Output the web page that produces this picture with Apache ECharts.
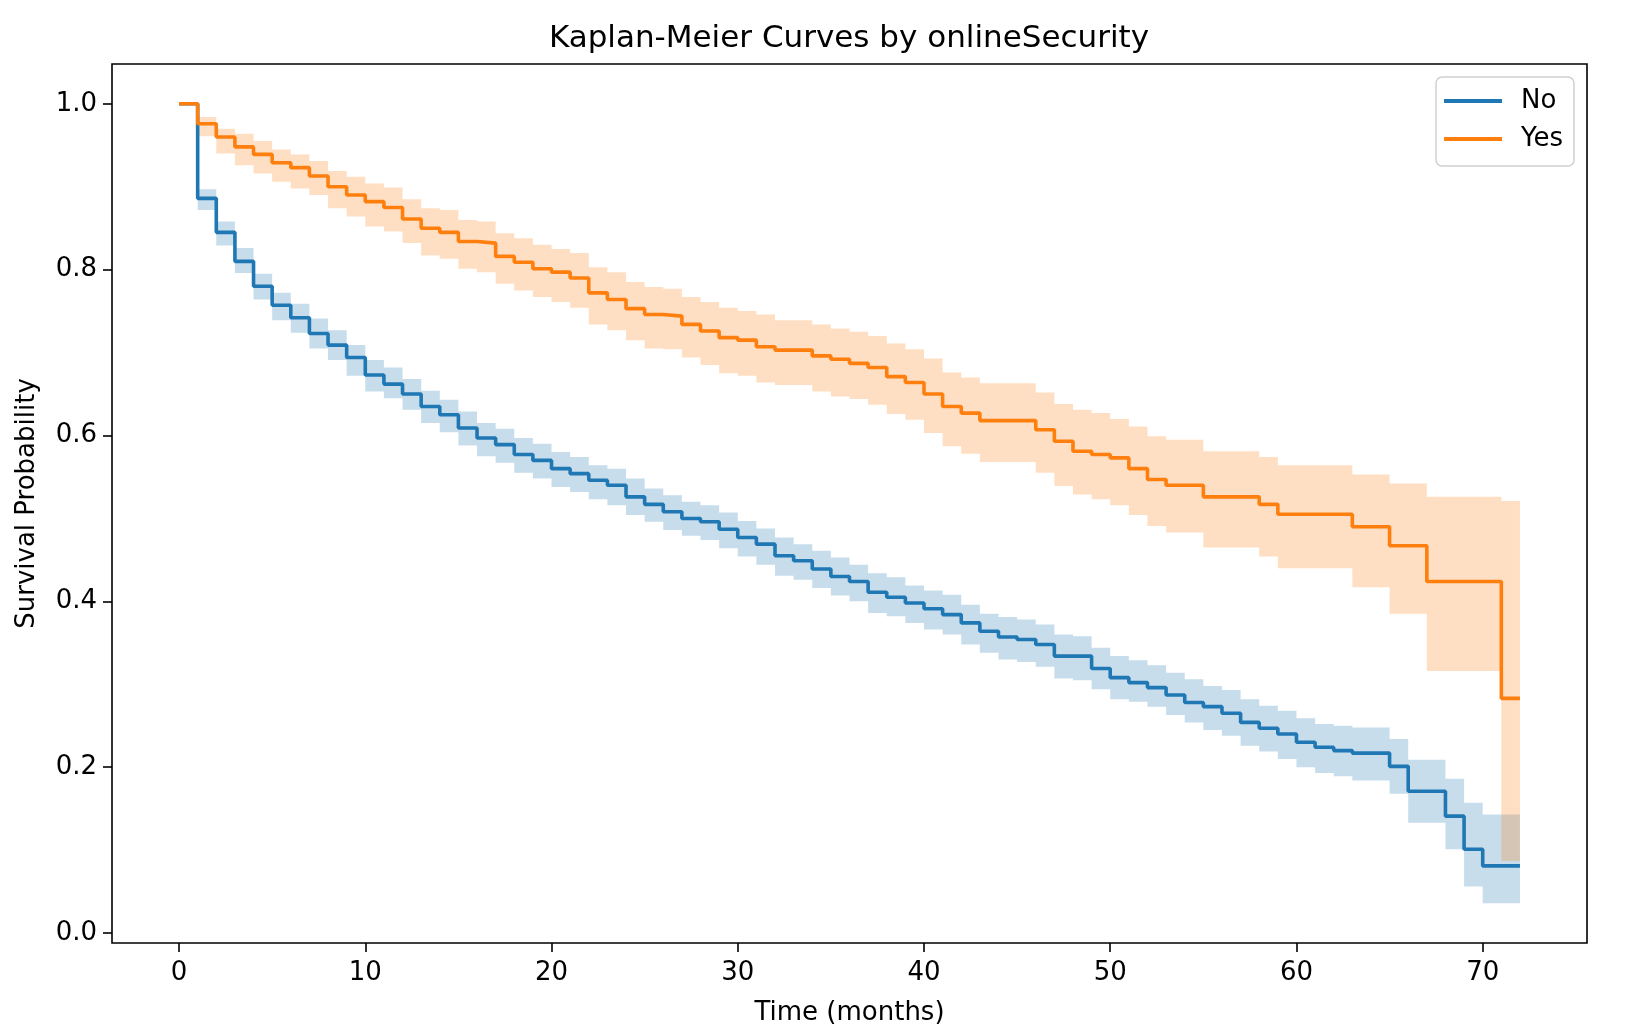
<!DOCTYPE html>
<html>
<head>
<meta charset="utf-8">
<title>Kaplan-Meier Curves by onlineSecurity</title>
<script src="https://cdn.jsdelivr.net/npm/echarts@6.0.0/dist/echarts.min.js"></script>
<style>
html, body { margin: 0; padding: 0; background: #fff; }
#chart { width: 1634px; height: 1034px; }
</style>
</head>
<body>
<div id="chart"></div>
<script>
// time grid (months), one step per month
const months = [
  0, 1, 2, 3, 4, 5, 6, 7, 8, 9,
  10, 11, 12, 13, 14, 15, 16, 17, 18, 19,
  20, 21, 22, 23, 24, 25, 26, 27, 28, 29,
  30, 31, 32, 33, 34, 35, 36, 37, 38, 39,
  40, 41, 42, 43, 44, 45, 46, 47, 48, 49,
  50, 51, 52, 53, 54, 55, 56, 57, 58, 59,
  60, 61, 62, 63, 64, 65, 66, 67, 68, 69,
  70, 71, 72
];

// onlineSecurity = No
const noSurv = [
  1.000, 0.886, 0.845, 0.810, 0.780, 0.757, 0.742, 0.723, 0.709, 0.694,
  0.673, 0.662, 0.650, 0.635, 0.625, 0.609, 0.597, 0.589, 0.577, 0.570,
  0.560, 0.554, 0.546, 0.540, 0.526, 0.517, 0.508, 0.500, 0.496, 0.487,
  0.477, 0.469, 0.455, 0.449, 0.439, 0.430, 0.424, 0.411, 0.405, 0.398,
  0.391, 0.384, 0.374, 0.364, 0.357, 0.354, 0.348, 0.334, 0.334, 0.319,
  0.308, 0.302, 0.296, 0.287, 0.278, 0.273, 0.265, 0.254, 0.247, 0.240,
  0.230, 0.224, 0.220, 0.217, 0.217, 0.201, 0.171, 0.171, 0.141, 0.101,
  0.081, 0.081, 0.081
];
const noHi = [
  1.000, 0.897, 0.858, 0.826, 0.795, 0.772, 0.759, 0.741, 0.727, 0.709,
  0.691, 0.682, 0.668, 0.654, 0.643, 0.629, 0.615, 0.608, 0.597, 0.590,
  0.580, 0.574, 0.564, 0.560, 0.548, 0.536, 0.528, 0.520, 0.516, 0.507,
  0.497, 0.488, 0.477, 0.469, 0.461, 0.453, 0.444, 0.434, 0.429, 0.419,
  0.413, 0.408, 0.396, 0.385, 0.381, 0.378, 0.372, 0.360, 0.358, 0.344,
  0.334, 0.329, 0.323, 0.314, 0.306, 0.298, 0.293, 0.282, 0.274, 0.268,
  0.259, 0.252, 0.250, 0.248, 0.248, 0.234, 0.209, 0.209, 0.186, 0.157,
  0.143, 0.143, 0.143
];
const noLo = [
  1.000, 0.872, 0.829, 0.796, 0.764, 0.739, 0.724, 0.705, 0.691, 0.672,
  0.653, 0.645, 0.631, 0.615, 0.604, 0.588, 0.575, 0.567, 0.555, 0.548,
  0.538, 0.532, 0.523, 0.516, 0.504, 0.496, 0.486, 0.479, 0.474, 0.464,
  0.454, 0.444, 0.431, 0.426, 0.416, 0.407, 0.400, 0.386, 0.382, 0.374,
  0.366, 0.360, 0.348, 0.338, 0.330, 0.327, 0.321, 0.307, 0.305, 0.294,
  0.282, 0.279, 0.273, 0.263, 0.254, 0.245, 0.238, 0.226, 0.219, 0.210,
  0.200, 0.193, 0.189, 0.184, 0.184, 0.168, 0.133, 0.133, 0.101, 0.056,
  0.036, 0.036, 0.036
];

// onlineSecurity = Yes
const yesSurv = [
  1.000, 0.976, 0.960, 0.948, 0.939, 0.929, 0.923, 0.913, 0.900, 0.890,
  0.882, 0.875, 0.861, 0.850, 0.845, 0.834, 0.832, 0.816, 0.809, 0.801,
  0.797, 0.790, 0.772, 0.764, 0.753, 0.746, 0.744, 0.734, 0.726, 0.718,
  0.715, 0.707, 0.703, 0.703, 0.696, 0.692, 0.687, 0.682, 0.671, 0.664,
  0.650, 0.635, 0.627, 0.618, 0.618, 0.618, 0.607, 0.593, 0.581, 0.577,
  0.573, 0.560, 0.547, 0.540, 0.540, 0.526, 0.526, 0.526, 0.517, 0.505,
  0.505, 0.505, 0.505, 0.490, 0.490, 0.467, 0.467, 0.424, 0.424, 0.424,
  0.424, 0.283, 0.283
];
const yesHi = [
  1.000, 0.984, 0.970, 0.964, 0.955, 0.945, 0.939, 0.931, 0.919, 0.912,
  0.904, 0.899, 0.885, 0.874, 0.872, 0.860, 0.858, 0.844, 0.838, 0.830,
  0.825, 0.820, 0.803, 0.797, 0.785, 0.779, 0.777, 0.767, 0.761, 0.754,
  0.750, 0.746, 0.739, 0.739, 0.734, 0.729, 0.725, 0.720, 0.711, 0.704,
  0.693, 0.676, 0.670, 0.663, 0.663, 0.663, 0.652, 0.638, 0.631, 0.627,
  0.620, 0.611, 0.599, 0.595, 0.595, 0.581, 0.581, 0.581, 0.574, 0.564,
  0.564, 0.564, 0.564, 0.553, 0.553, 0.542, 0.542, 0.526, 0.526, 0.526,
  0.526, 0.521, 0.521
];
const yesLo = [
  1.000, 0.961, 0.940, 0.926, 0.916, 0.906, 0.898, 0.890, 0.874, 0.864,
  0.852, 0.846, 0.832, 0.817, 0.813, 0.801, 0.797, 0.783, 0.775, 0.767,
  0.761, 0.754, 0.734, 0.727, 0.715, 0.705, 0.704, 0.694, 0.685, 0.675,
  0.672, 0.664, 0.661, 0.661, 0.653, 0.647, 0.644, 0.637, 0.626, 0.619,
  0.603, 0.587, 0.578, 0.568, 0.568, 0.568, 0.555, 0.539, 0.529, 0.523,
  0.516, 0.504, 0.491, 0.483, 0.483, 0.465, 0.465, 0.465, 0.454, 0.440,
  0.440, 0.440, 0.440, 0.417, 0.417, 0.385, 0.385, 0.316, 0.316, 0.316,
  0.316, 0.087, 0.087
];

const xTicks = [0, 10, 20, 30, 40, 50, 60, 70];
const yTicks = [0.0, 0.2, 0.4, 0.6, 0.8, 1.0];

const blue = "#1f77b4";
const orange = "#ff7f0e";
const font = "DejaVu Sans";

function pairs(vals) {
  return months.map((m, i) => [m, vals[i]]);
}

// stepped confidence band, drawn as one polygon through the axis scales
function bandSeries(lo, hi, fill) {
  return {
    type: "custom", silent: true, clip: true,
    data: [[months[0], hi[0]]],
    renderItem: (params, api) => {
      const pts = [];
      for (let i = 0; i < months.length - 1; i++) {
        pts.push(api.coord([months[i], hi[i]]), api.coord([months[i + 1], hi[i]]));
      }
      for (let i = months.length - 2; i >= 0; i--) {
        pts.push(api.coord([months[i + 1], lo[i]]), api.coord([months[i], lo[i]]));
      }
      return { type: "polygon", shape: { points: pts }, style: { fill: fill } };
    }
  };
}

function curveSeries(name, vals, color) {
  return {
    name: name, type: "line", step: "end",
    data: pairs(vals), symbol: "none", color: color,
    lineStyle: { color: color, width: 3.6 }
  };
}

const chart = echarts.init(document.getElementById("chart"));
chart.setOption({
  animation: false,
  backgroundColor: "#fff",
  title: {
    text: "Kaplan-Meier Curves by onlineSecurity",
    left: 849, top: 23, padding: 0,
    textAlign: "center",
    textStyle: { fontFamily: font, fontSize: 31, fontWeight: "normal", color: "#000" }
  },
  legend: {
    data: ["No", "Yes"],
    orient: "vertical",
    right: 60, top: 77,
    icon: "rect", itemWidth: 58, itemHeight: 4, itemGap: 12,
    padding: [11, 11, 14, 8],
    backgroundColor: "#fff",
    borderColor: "#d0d0d0", borderWidth: 1.5, borderRadius: 6,
    textStyle: { fontFamily: font, fontSize: 26, color: "#000", padding: [0, 0, 0, 14] }
  },
  grid: {
    left: 112, top: 64, right: 47, bottom: 91,
    show: true, borderColor: "#000", borderWidth: 1.6,
    outerBoundsMode: "none"
  },
  xAxis: {
    type: "value", min: -3.6, max: 75.6,
    name: "Time (months)", nameLocation: "middle", nameGap: 57,
    nameTextStyle: { fontFamily: font, fontSize: 26, color: "#000" },
    axisLine: { show: false, onZero: false },
    axisTick: { show: true, length: 9, customValues: xTicks, lineStyle: { color: "#000", width: 1.6 } },
    axisLabel: { customValues: xTicks, margin: 17, fontFamily: font, fontSize: 26, color: "#000" },
    splitLine: { show: false }
  },
  yAxis: {
    type: "value", min: -0.012, max: 1.048,
    name: "Survival Probability", nameLocation: "middle", nameGap: 72, nameRotate: 90,
    nameTextStyle: { fontFamily: font, fontSize: 26, color: "#000" },
    axisLine: { show: false, onZero: false },
    axisTick: { show: true, length: 9, customValues: yTicks, lineStyle: { color: "#000", width: 1.6 } },
    axisLabel: {
      customValues: yTicks, margin: 15, fontFamily: font, fontSize: 26, color: "#000",
      formatter: v => v.toFixed(1)
    },
    splitLine: { show: false }
  },
  series: [
    bandSeries(noLo, noHi, "rgba(31,119,180,0.25)"),
    curveSeries("No", noSurv, blue),
    bandSeries(yesLo, yesHi, "rgba(255,127,14,0.25)"),
    curveSeries("Yes", yesSurv, orange)
  ]
});
</script>
</body>
</html>
